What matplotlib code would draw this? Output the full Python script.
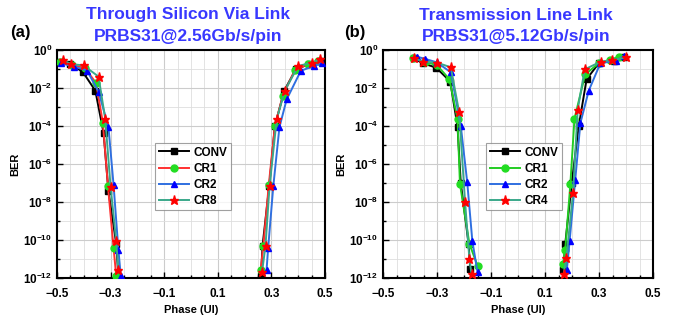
import numpy as np
import matplotlib
matplotlib.use("Agg")
import matplotlib.pyplot as plt
from matplotlib.ticker import MultipleLocator, FixedLocator, NullFormatter

plt.rcParams['font.family'] = ['Liberation Sans', 'DejaVu Sans']
plt.rcParams['font.weight'] = 'bold'

# ---------------- Panel (a): TSV link ----------------
a_titles = ["Through Silicon Via Link", "PRBS31@2.56Gb/s/pin"]
a_labels = ["CONV", "CR1", "CR2", "CR8"]
# phase (UI) and log10(BER), left and right bathtub branches
a_conv_x = [-0.490, -0.450, -0.403, -0.357, -0.326, -0.308, -0.279, -0.271,
            0.261, 0.267, 0.292, 0.313, 0.348, 0.391, 0.441, 0.483]
a_conv_y = [-0.61, -0.72, -1.17, -2.14, -4.38, -7.44, -10.2, -11.9,
            -11.9, -10.3, -7.15, -4.0, -2.14, -1.02, -0.74, -0.56]
a_cr1_x = [-0.490, -0.445, -0.395, -0.354, -0.329, -0.310, -0.289, -0.279,
           0.260, 0.270, 0.290, 0.313, 0.342, 0.388, 0.438, 0.475]
a_cr1_y = [-0.61, -0.78, -0.95, -1.75, -3.82, -7.14, -10.4, -11.9,
           -11.56, -10.3, -7.13, -4.0, -2.42, -1.05, -0.74, -0.56]
a_cr2_x = [-0.485, -0.438, -0.388, -0.345, -0.308, -0.289, -0.271, -0.262,
           0.282, 0.288, 0.307, 0.330, 0.357, 0.410, 0.460, 0.488]
a_cr2_y = [-0.70, -0.87, -1.08, -2.19, -4.06, -7.09, -10.5, -11.9,
           -11.56, -10.4, -7.18, -4.06, -2.6, -1.09, -0.84, -0.67]
a_cr8_x = [-0.478, -0.448, -0.401, -0.345, -0.320, -0.300, -0.279, -0.271,
           0.265, 0.278, 0.293, 0.320, 0.350, 0.400, 0.450, 0.483]
a_cr8_y = [-0.53, -0.74, -0.81, -1.40, -3.63, -7.2, -10.07, -11.6,
           -11.7, -10.3, -7.18, -3.63, -2.14, -0.84, -0.67, -0.49]

# ---------------- Panel (b): transmission line link ----------------
b_titles = ["Transmission Line Link", "PRBS31@5.12Gb/s/pin"]
b_labels = ["CONV", "CR1", "CR2", "CR4"]
b_conv_x = [-0.387, -0.352, -0.303, -0.251, -0.224, -0.212, -0.183, -0.177,
            0.168, 0.175, 0.199, 0.225, 0.254, 0.299, 0.355, 0.392]
b_conv_y = [-0.44, -0.70, -0.93, -1.66, -4.03, -7.0, -10.2, -11.5,
            -11.56, -10.2, -7.0, -4.0, -1.54, -0.70, -0.56, -0.39]
b_cr1_x = [-0.390, -0.345, -0.300, -0.254, -0.224, -0.215, -0.180, -0.150,
           0.167, 0.175, 0.194, 0.209, 0.249, 0.299, 0.342, 0.373]
b_cr1_y = [-0.44, -0.62, -0.80, -1.54, -3.64, -7.04, -10.2, -11.35,
           -11.24, -10.5, -7.04, -3.63, -1.28, -0.70, -0.53, -0.35]
b_cr2_x = [-0.375, -0.343, -0.301, -0.249, -0.212, -0.188, -0.169, -0.150,
           0.181, 0.191, 0.212, 0.231, 0.262, 0.305, 0.364, 0.391]
b_cr2_y = [-0.35, -0.47, -0.65, -1.17, -3.99, -6.97, -10.07, -11.68,
           -11.56, -10.07, -6.83, -3.85, -2.14, -0.70, -0.56, -0.32]
b_cr4_x = [-0.384, -0.352, -0.299, -0.249, -0.218, -0.196, -0.180, -0.172,
           0.169, 0.179, 0.204, 0.221, 0.247, 0.307, 0.348, 0.401]
b_cr4_y = [-0.44, -0.61, -0.67, -0.91, -3.27, -8.0, -11.0, -11.8,
           -11.8, -10.95, -7.5, -3.15, -1.02, -0.61, -0.53, -0.39]

x_ticks = [-0.5, -0.3, -0.1, 0.1, 0.3, 0.5]
y_ticks = [1e0, 1e-2, 1e-4, 1e-6, 1e-8, 1e-10, 1e-12]

a_series = [(a_conv_x, a_conv_y), (a_cr1_x, a_cr1_y), (a_cr2_x, a_cr2_y), (a_cr8_x, a_cr8_y)]
b_series = [(b_conv_x, b_conv_y), (b_cr1_x, b_cr1_y), (b_cr2_x, b_cr2_y), (b_cr4_x, b_cr4_y)]

# style: (line colour, marker, marker face colour)
a_styles = [("#000000", "s", "#000000"), ("#ff3030", "o", "#22dd22"),
            ("#2f6fe0", "^", "#0000ff"), ("#3aa88a", "*", "#ff0000")]
b_styles = [("#000000", "s", "#000000"), ("#22cc22", "o", "#22dd22"),
            ("#2f6fe0", "^", "#0000ff"), ("#3aa88a", "*", "#ff0000")]

fig = plt.figure(figsize=(6.74, 3.22), dpi=100)
W, H = 674, 322
TITLE_COLOR = '#3838ff'

def setup(ax, series, styles, labels, titles, letter, title_cx, letter_x, leg_bbox):
    for (xs, ys), (lc, mk, mf), lab in zip(series, styles, labels):
        xs = np.array(xs)
        ys = 10.0 ** np.array(ys)
        left = xs < 0
        ms = 6.5 if mk == "*" else 5
        for m in (left, ~left):
            ax.plot(xs[m], ys[m], color=lc, lw=1.4, marker=mk, mfc=mf, mec=mf,
                    ms=ms, zorder=3)
        ax.plot([], [], color=lc, lw=1.4, marker=mk, mfc=mf, mec=mf, ms=ms, label=lab)
    ax.set_yscale('log')
    ax.set_xlim(-0.5, 0.5)
    ax.set_ylim(1e-12, 1e0)
    ax.xaxis.set_major_locator(FixedLocator(x_ticks))
    ax.xaxis.set_minor_locator(MultipleLocator(0.05))
    ax.yaxis.set_major_locator(FixedLocator(y_ticks))
    ax.yaxis.set_minor_locator(FixedLocator([10.0 ** -k for k in range(1, 12, 2)]))
    ax.yaxis.set_minor_formatter(NullFormatter())
    ax.xaxis.set_minor_formatter(NullFormatter())
    ax.grid(True, which='major', color='#cccccc', lw=0.8)
    ax.grid(True, which='minor', color='#dedede', lw=0.6)
    ax.set_axisbelow(True)
    ax.tick_params(which='both', direction='in', labelsize=8.5, width=1)
    ax.tick_params(which='major', length=4)
    ax.tick_params(which='minor', length=2.5)
    ax.tick_params(axis='x', which='major', pad=7)
    for lab in ax.get_xticklabels() + ax.get_yticklabels():
        lab.set_fontweight('bold')
    for s in ax.spines.values():
        s.set_linewidth(1.5)
    ax.set_xlabel("Phase (UI)", fontsize=8, fontweight='bold', labelpad=4)
    ax.set_ylabel("BER", fontsize=8, fontweight='bold', labelpad=2)
    leg = ax.legend(loc='upper left', bbox_to_anchor=leg_bbox, fontsize=8.5,
                    frameon=True, fancybox=False, edgecolor='#888888',
                    handlelength=2.6, borderpad=0.3, labelspacing=0.35,
                    handletextpad=0.4, borderaxespad=0)
    for t in leg.get_texts():
        t.set_fontweight('bold')
    leg.get_frame().set_linewidth(0.8)
    fig.text(title_cx / W, 1 - 15 / H, titles[0], ha='center', va='center',
             color=TITLE_COLOR, fontsize=12.5, fontweight='bold')
    fig.text(title_cx / W, 1 - 36 / H, titles[1], ha='center', va='center',
             color=TITLE_COLOR, fontsize=12.5, fontweight='bold')
    fig.text(letter_x / W, 1 - 33 / H, letter, ha='left', va='center',
             color='black', fontsize=12, fontweight='bold')

ax1 = fig.add_axes([57 / W, 1 - 278 / H, 268 / W, 228 / H])
ax2 = fig.add_axes([383 / W, 1 - 278 / H, 270 / W, 228 / H])

setup(ax1, a_series, a_styles, a_labels, a_titles, "(a)", 188, 10,
      ((155 - 57) / 268, (278 - 143) / 228))
setup(ax2, b_series, b_styles, b_labels, b_titles, "(b)", 516, 344,
      ((486 - 383) / 270, (278 - 143) / 228))

fig.savefig("out.png", dpi=100)
